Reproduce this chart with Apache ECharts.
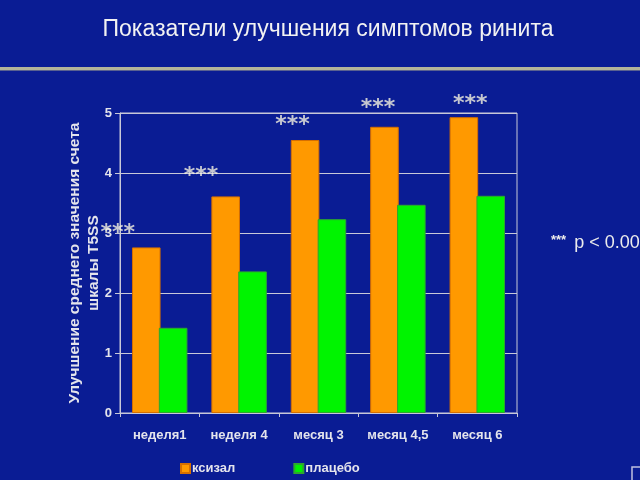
<!DOCTYPE html>
<html>
<head>
<meta charset="utf-8">
<script src="https://cdn.jsdelivr.net/npm/echarts@6/dist/echarts.min.js"></script>
<style>
  html, body { margin: 0; padding: 0; background: #0a1c94; }
  #chart { width: 640px; height: 480px; }
</style>
</head>
<body>
<div id="chart"></div>
<script>
const categories = ['неделя1', 'неделя 4', 'месяц 3', 'месяц 4,5', 'месяц 6']
const xyzal = [2.76, 3.61, 4.55, 4.77, 4.93]
const placebo = [1.42, 2.36, 3.23, 3.47, 3.62]
// height of the "***" marks over each pair of bars
const starLevel = [3.08, 4.03, 4.88, 5.17, 5.23]
const yTicks = [0, 1, 2, 3, 4, 5]

// horizontal nudge of the stars, they were placed by hand on the slide
const starDx = [-42, -38, -26, -20, -7]

const chart = echarts.init(document.getElementById('chart'))

const lightText = '#e4e4ec'
const gridColor = '#c8c8d8'

chart.setOption({
    backgroundColor: '#0a1c94',
    animation: false,
    title: {
        text: 'Показатели улучшения симптомов ринита',
        left: 323,
        top: 13,
        textAlign: 'center',
        textStyle: {
            color: '#f2f2f2',
            fontFamily: 'Liberation Sans, Arial, sans-serif',
            fontWeight: 'normal',
            fontSize: 23
        }
    },
    graphic: [
        {
            type: 'rect',
            shape: { x: 0, y: 67, width: 640, height: 3 },
            style: { fill: '#b4b49a' }
        },
        {
            type: 'rect',
            shape: { x: 0, y: 70, width: 640, height: 1 },
            style: { fill: '#5a6290' }
        },
        {
            type: 'text',
            left: 551,
            top: 234,
            style: {
                text: '{s|***} p < 0.001',
                fill: '#ececec',
                font: '18px Liberation Sans, Arial, sans-serif',
                rich: {
                    s: { fontSize: 13, fontWeight: 'bold', fill: '#ececec', verticalAlign: 'top', padding: [0, 3, 6, 0] }
                }
            }
        },
        {
            type: 'rect',
            shape: { x: 632, y: 467, width: 20, height: 20 },
            style: { fill: 'none', stroke: '#c0c0e0', lineWidth: 1.5 }
        }
    ],
    legend: {
        data: ['ксизал', 'плацебо'],
        left: 175,
        top: 457,
        itemWidth: 9,
        itemHeight: 9,
        itemGap: 58,
        icon: 'rect',
        textStyle: {
            color: lightText,
            fontFamily: 'Liberation Sans, Arial, sans-serif',
            fontWeight: 'bold',
            fontSize: 13,
            padding: [0, 0, 0, -3]
        }
    },
    grid: {
        left: 120,
        right: 123,
        top: 113,
        bottom: 67,
        show: true,
        borderColor: gridColor,
        borderWidth: 1
    },
    xAxis: {
        type: 'category',
        data: categories,
        axisLine: { lineStyle: { color: gridColor } },
        axisTick: { show: true, length: 4, lineStyle: { color: gridColor } },
        axisLabel: {
            interval: 0,
            color: lightText,
            fontFamily: 'Liberation Sans, Arial, sans-serif',
            fontWeight: 'bold',
            fontSize: 13,
            margin: 16
        }
    },
    yAxis: {
        type: 'value',
        min: yTicks[0],
        max: yTicks[yTicks.length - 1],
        interval: 1,
        name: 'Улучшение среднего значения счета\nшкалы T5SS',
        nameLocation: 'middle',
        nameRotate: 90,
        nameGap: 17,
        nameMoveOverlap: false,
        nameTextStyle: {
            color: lightText,
            fontFamily: 'Liberation Sans, Arial, sans-serif',
            fontWeight: 'bold',
            fontSize: 15.5,
            lineHeight: 19
        },
        axisLine: { show: true, lineStyle: { color: gridColor } },
        axisTick: { show: true, length: 5, lineStyle: { color: gridColor } },
        splitLine: { lineStyle: { color: gridColor } },
        axisLabel: {
            color: lightText,
            fontFamily: 'Liberation Sans, Arial, sans-serif',
            fontWeight: 'bold',
            fontSize: 13,
            margin: 8
        }
    },
    series: [
        {
            name: 'ксизал',
            type: 'bar',
            data: xyzal,
            barWidth: '36%',
            barGap: '-6%',
            itemStyle: { color: '#ff9900', borderColor: '#d66f00', borderWidth: 1 }
        },
        {
            name: 'плацебо',
            type: 'bar',
            data: placebo,
            barWidth: '36%',
            itemStyle: { color: '#00f400', borderColor: '#2ea82e', borderWidth: 1 }
        },
        {
            name: 'stars',
            type: 'scatter',
            data: starLevel.map((v, i) => ({
                value: [i, v],
                label: { offset: [starDx[i], 5] }
            })),
            symbol: 'circle',
            symbolSize: 2,
            itemStyle: { color: 'rgba(0,0,0,0)' },
            clip: false,
            silent: true,
            z: 5,
            label: {
                show: true,
                position: 'inside',
                formatter: '***',
                color: '#f6f4e0',
                textBorderWidth: 0,
                fontFamily: 'DejaVu Sans, sans-serif',
                fontWeight: 'bold',
                fontSize: 22
            }
        }
    ]
})
</script>
</body>
</html>
